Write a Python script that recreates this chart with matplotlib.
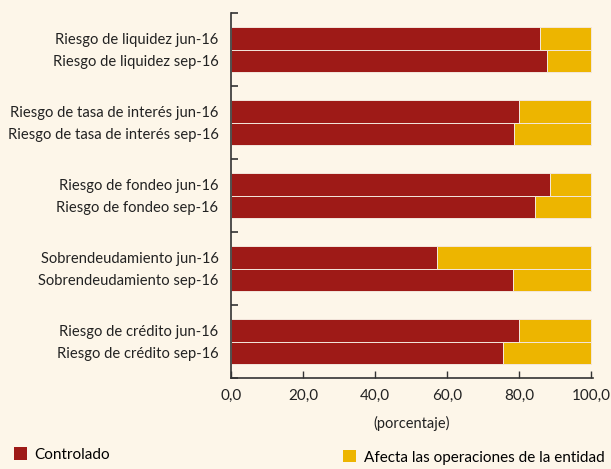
import matplotlib
matplotlib.use("Agg")
import matplotlib.pyplot as plt
import numpy as np

# data
riesgos = ["Riesgo de liquidez", "Riesgo de tasa de interés", "Riesgo de fondeo",
           "Sobrendeudamiento", "Riesgo de crédito"]
periodos = ["jun-16", "sep-16"]
controlado_jun = [85.9, 80.1, 88.7, 57.2, 80.1]
controlado_sep = [87.7, 78.7, 84.5, 78.5, 75.7]
afecta_jun = [100 - v for v in controlado_jun]
afecta_sep = [100 - v for v in controlado_sep]
xticks = [0, 20, 40, 60, 80, 100]

bg = "#fdf6e9"
rojo = "#9e1a17"
amarillo = "#edb500"

plt.rcParams["font.family"] = ["Lato", "DejaVu Sans"]

fig = plt.figure(figsize=(6.11, 4.69), dpi=100, facecolor=bg)
ax = fig.add_axes([0.378, 0.194, 0.592, 0.778])
ax.set_facecolor(bg)

h = 0.31
grupos = np.arange(len(riesgos))
y_jun = grupos + 0.5 - h / 2
y_sep = grupos + 0.5 + h / 2

kw = dict(height=h, edgecolor="#f3e6dc", linewidth=0.7)
b1 = ax.barh(y_jun, controlado_jun, color=rojo, **kw)
ax.barh(y_sep, controlado_sep, color=rojo, **kw)
b2 = ax.barh(y_jun, afecta_jun, left=controlado_jun, color=amarillo, **kw)
ax.barh(y_sep, afecta_sep, left=controlado_sep, color=amarillo, **kw)

ax.set_ylim(len(riesgos), 0)
ax.set_xlim(0, 100.5)

pos = np.concatenate([y_jun, y_sep])
labels = [f"{r} {periodos[0]}" for r in riesgos] + [f"{r} {periodos[1]}" for r in riesgos]
ax.set_yticks(pos)
ax.set_yticklabels(labels, fontsize=10.6, color="#222222")
ax.tick_params(axis="y", which="major", length=0, pad=9)
ax.set_yticks(np.arange(len(riesgos) + 1), minor=True)
ax.tick_params(axis="y", which="minor", direction="in", length=5, width=1.2, color="#333333")

ax.set_xticks(xticks)
ax.set_xticklabels([f"{v:.1f}".replace(".", ",") for v in xticks], fontsize=11, color="#222222")
ax.tick_params(axis="x", direction="in", length=5, width=1, color="#333333", pad=8)
ax.set_xlabel("(porcentaje)", fontsize=10.5, color="#222222", labelpad=9)

for s in ["top", "right"]:
    ax.spines[s].set_visible(False)
for s in ["left", "bottom"]:
    ax.spines[s].set_color("#333333")
    ax.spines[s].set_linewidth(1.2)

leg1 = fig.legend([b1[0]], ["Controlado"], loc="lower left", bbox_to_anchor=(0.0, -0.014),
                  frameon=False, fontsize=11, handlelength=0.85, handleheight=0.85,
                  handletextpad=0.5)
leg2 = fig.legend([b2[0]], ["Afecta las operaciones de la entidad"], loc="lower right",
                  bbox_to_anchor=(1.012, -0.02), frameon=False, fontsize=11,
                  handlelength=0.85, handleheight=0.85, handletextpad=0.5)
for leg in (leg1, leg2):
    for p in leg.get_patches():
        p.set_edgecolor("none")

fig.savefig("out.png", dpi=100, facecolor=bg)
